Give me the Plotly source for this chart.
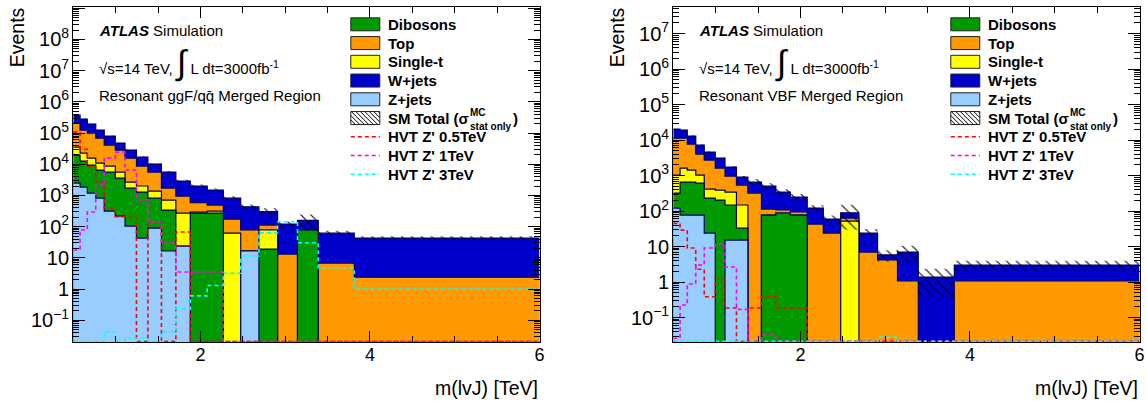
import numpy as np
import plotly.graph_objects as go

W, H = 1147, 406
FONT = "Liberation Sans, Arial, Helvetica, sans-serif"
NAVY = "#000066"

# bin edges in TeV (same binning for both regions)
EDGES = [0.5, 0.58, 0.665, 0.765, 0.865, 0.995, 1.11, 1.245, 1.38, 1.54, 1.71,
         1.88, 2.08, 2.27, 2.475, 2.69, 2.91, 3.145, 3.39, 3.815, 6.0]

# --- ggF/qqbar merged region (events per bin) ---
ZJETS_GGF = [2490, 1850, 1190, 823, 315, 218, 104, 43, 90, 16.5, 23.8, 0, 0, 0, 16.5, 0, 0, 0, 0, 0]
DIBOSON_GGF = [17200, 10750, 8210, 5680, 5290, 3380, 1620, 1240, 733, 323, 0, 272, 272, 0, 0, 19.1, 0, 78, 0, 0]
SINGLET_GGF = [15800, 10200, 6300, 4400, 3130, 2000, 960, 720, 557, 370, 248, 20, 43, 62, 0, 59, 0, 0, 0, 0]
TOP_GGF = [172500, 101200, 84300, 58000, 32400, 22800, 13000, 6730, 4220, 1010, 681, 297, 176, 113, 61.5, 34, 13.2, 0, 6.8, 2.4]
WJETS_GGF = [168000, 156000, 94000, 55100, 38900, 19300, 12700, 8270, 4500, 3880, 1930, 1410, 1000, 648, 355, 188, 108, 80, 55, 40.6]
STAT_ERR_GGF = [7500, 5600, 3900, 2500, 2400, 1400, 1100, 850, 700, 450, 290, 240, 180, 120, 80, 90, 25, 85, 12, 6]
HVT05_GGF = [107000, 30000, 8300, 2700, 394, 207, 200, 0, 140, 0, 67, 0, 0, 0, 0, 0, 0, 0, 0, 0]
HVT1_GGF = [17.7, 78, 293, 2150, 15700, 24500, 6500, 710, 140, 29.7, 3.5, 3.5, 3.5, 0, 0, 0, 0, 0, 0, 0]
HVT3_GGF = [0, 0, 0, 0, 0.043, 0, 0.027, 0.027, 0, 0.043, 0.23, 0.6, 1.3, 3.2, 11.4, 63, 143, 30.5, 4.8, 1.0]

# --- VBF merged region ---
ZJETS_VBF = [121, 77, 77, 77, 24, 0, 15.2, 15.2, 0, 0, 0, 0, 0, 0, 0, 0, 0, 0, 0, 0]
DIBOSON_VBF = [200, 579, 579, 538, 208, 204, 133, 17.8, 0, 77, 88, 77, 0, 0, 0, 0, 0, 0, 0, 0]
SINGLET_VBF = [709, 974, 774, 415, 185, 187, 195, 115, 0, 0, 0, 0, 0, 0, 52, 0, 0, 0, 0, 0]
TOP_VBF = [10370, 9770, 6280, 3000, 2310, 1240, 625, 392, 321, 37, 19, 17, 43, 24, 11.5, 7.0, 4.2, 1.07, 0, 1.07]
WJETS_VBF = [9000, 7700, 5290, 3200, 1860, 1480, 772, 367, 335, 392, 236, 154, 78, 35.5, 26, 17, 1.6, 5.9, 1.38, 1.93]
STAT_ERR_VBF = [600, 570, 400, 250, 180, 140, 90, 70, 150, 100, 70, 55, 25, 15, 60, 7, 2, 3.5, 1.0, 1.0]
HVT05_VBF = [45, 29, 9.1, 2.3, 0.385, 1.32, 0.185, 0, 0.185, 0.385, 0.185, 0.185, 0, 0, 0, 0, 0, 0, 0, 0]
HVT1_VBF = [0.026, 0.225, 0.88, 3.0, 9.1, 11.8, 2.65, 0.17, 0, 0.032, 0, 0, 0, 0, 0, 0, 0, 0, 0, 0]
HVT3_VBF = [0, 0, 0, 0, 0, 0, 0, 0, 0, 0, 0, 0, 0, 0, 0, 0, 0.028, 0, 0, 0]

BKG_NAMES = ["Z+jets", "Dibosons", "Single-t", "Top", "W+jets"]   # stacking order, bottom first
BKG_COLORS = ["#99ccff", "#009900", "#ffff00", "#ff9900", "#0000cc"]
LEGEND_ORDER = ["Dibosons", "Top", "Single-t", "W+jets", "Z+jets"]
SIG_NAMES = ["HVT Z' 0.5TeV", "HVT Z' 1TeV", "HVT Z' 3TeV"]
SIG_COLORS = ["#ff0000", "#ff00ff", "#00ffff"]

PANELS = [
    dict(left=73.3, right=539.5, yrange=[np.log10(0.02), 9.04],
         region="Resonant ggF/qq\u0304 Merged Region",
         stack=[ZJETS_GGF, DIBOSON_GGF, SINGLET_GGF, TOP_GGF, WJETS_GGF],
         err=STAT_ERR_GGF, sig=[HVT05_GGF, HVT1_GGF, HVT3_GGF]),
    dict(left=673.3, right=1139.5, yrange=[-1.69, 7.75],
         region="Resonant VBF Merged Region",
         stack=[ZJETS_VBF, DIBOSON_VBF, SINGLET_VBF, TOP_VBF, WJETS_VBF],
         err=STAT_ERR_VBF, sig=[HVT05_VBF, HVT1_VBF, HVT3_VBF]),
]

PLOT_TOP, PLOT_BOTTOM = 7, 342


def px_x(p):
    return p / W


def px_y(p):
    return 1 - p / H


def steps(vals, floor):
    v = np.asarray(vals, dtype=float)
    v = np.where(v > 0, v, floor)
    return np.append(v, v[-1])


def hatch_path(x0, x1, ytop, ybot, step=4.5):
    h = ybot - ytop
    parts = []
    a = x0 - h
    while a < x1:
        t0 = max(0.0, (x0 - a) / h)
        t1 = min(1.0, (x1 - a) / h)
        if t1 > t0:
            parts.append("M%.5f,%.5f L%.5f,%.5f" % (
                px_x(a + t0 * h), px_y(ytop + t0 * h),
                px_x(a + t1 * h), px_y(ytop + t1 * h)))
        a += step
    return " ".join(parts)


fig = go.Figure()
annotations = []
shapes = []

for i, p in enumerate(PANELS):
    xa = "x" if i == 0 else "x2"
    ya = "y" if i == 0 else "y2"
    ymin = 10 ** p["yrange"][0]

    cum = np.cumsum(np.array(p["stack"], dtype=float), axis=0)
    # draw the stack from the top down so lower components cover the upper ones
    for k in reversed(range(len(BKG_NAMES))):
        fig.add_trace(go.Scatter(
            x=EDGES, y=steps(cum[k], 1e-6), mode="lines",
            line=dict(shape="hv", color=NAVY, width=1.2),
            fill="tozeroy", fillcolor=BKG_COLORS[k],
            xaxis=xa, yaxis=ya, showlegend=False, hoverinfo="skip"))

    total = cum[-1]
    err = np.array(p["err"], dtype=float)
    fig.add_trace(go.Scatter(
        x=EDGES, y=steps(total - err, 1e-6), mode="lines",
        line=dict(shape="hv", width=0), xaxis=xa, yaxis=ya,
        showlegend=False, hoverinfo="skip"))
    fig.add_trace(go.Scatter(
        x=EDGES, y=steps(total + err, 1e-6), mode="lines",
        line=dict(shape="hv", width=0), fill="tonexty",
        fillcolor="rgba(0,0,0,0)",
        fillpattern=dict(shape="\\", fgcolor="black", bgcolor="rgba(0,0,0,0)",
                         size=7, solidity=0.15),
        xaxis=xa, yaxis=ya, showlegend=False, hoverinfo="skip"))

    for s, col in zip(p["sig"], SIG_COLORS):
        v = np.maximum(np.asarray(s, dtype=float), ymin * 1.04)
        fig.add_trace(go.Scatter(
            x=EDGES, y=np.append(v, v[-1]), mode="lines",
            line=dict(shape="hv", color=col, width=1.6, dash="4px,3px"),
            xaxis=xa, yaxis=ya, showlegend=False, hoverinfo="skip"))

    L, R = p["left"], p["right"]
    axis_x = dict(
        domain=[px_x(L), px_x(R)], range=[0.5, 6.0], tick0=0, dtick=2,
        ticks="inside", ticklen=11, tickcolor="black",
        minor=dict(dtick=0.5, ticks="inside", ticklen=6, tickcolor="black", showgrid=False),
        showline=True, linecolor="black", linewidth=1, mirror="allticks",
        showgrid=False, zeroline=False, tickfont=dict(size=18, color="black"),
        ticklabelstandoff=-4,
        anchor=ya)
    axis_y = dict(
        type="log", domain=[px_y(PLOT_BOTTOM), px_y(PLOT_TOP)], range=p["yrange"],
        dtick=1, exponentformat="power",
        ticks="inside", ticklen=12, tickcolor="black",
        minor=dict(ticks="inside", ticklen=6, tickcolor="black", showgrid=False),
        showline=True, linecolor="black", linewidth=1, mirror="allticks",
        showgrid=False, zeroline=False, tickfont=dict(size=16, color="black"),
        anchor=xa)
    if i == 0:
        fig.update_layout(xaxis=axis_x, yaxis=axis_y)
    else:
        fig.update_layout(xaxis2=axis_x, yaxis2=axis_y)

    # axis titles
    annotations.append(dict(text="Events", x=px_x(L - 56), y=px_y(5), xanchor="center",
                            yanchor="top", textangle=-90, font=dict(size=19.5)))
    annotations.append(dict(text="m(lvJ) [TeV]", x=px_x(R), y=px_y(388), xanchor="right",
                            yanchor="middle", font=dict(size=19.5)))

    # labels
    tx = L + 23.7
    annotations.append(dict(text="<b><i>ATLAS</i></b> Simulation", x=px_x(tx), y=px_y(31),
                            xanchor="left", yanchor="middle", font=dict(size=15)))
    annotations.append(dict(
        text="\u221as=14 TeV, <span style='font-size:34px'>\u222b</span> L dt=3000fb<sup>-1</sup>",
        x=px_x(tx), y=px_y(63), xanchor="left", yanchor="middle", font=dict(size=15)))
    annotations.append(dict(text=p["region"], x=px_x(tx), y=px_y(95),
                            xanchor="left", yanchor="middle", font=dict(size=15)))

    # legend
    bx0, bx1 = L + 277.5, L + 306.5
    text_x = L + 313
    row0, drow = 24.3, 18.75
    for r, name in enumerate(LEGEND_ORDER):
        yc = row0 + r * drow
        col = BKG_COLORS[BKG_NAMES.index(name)]
        shapes.append(dict(type="rect", xref="paper", yref="paper",
                           x0=px_x(bx0), x1=px_x(bx1), y0=px_y(yc + 6.5), y1=px_y(yc - 6.5),
                           fillcolor=col, line=dict(color="#222222", width=1)))
        annotations.append(dict(text="<b>%s</b>" % name, x=px_x(text_x), y=px_y(yc),
                                xanchor="left", yanchor="middle", font=dict(size=15)))
    yc = row0 + 5 * drow
    shapes.append(dict(type="rect", xref="paper", yref="paper",
                       x0=px_x(bx0), x1=px_x(bx1), y0=px_y(yc + 6.5), y1=px_y(yc - 6.5),
                       fillcolor="white", line=dict(color="#222222", width=1)))
    shapes.append(dict(type="path", xref="paper", yref="paper",
                       path=hatch_path(bx0, bx1, yc - 6.5, yc + 6.5),
                       line=dict(color="black", width=1)))
    annotations.append(dict(text="<b>SM Total (\u03c3</b>", x=px_x(text_x), y=px_y(yc),
                            xanchor="left", yanchor="middle", font=dict(size=15)))
    annotations.append(dict(text="<b>MC</b>", x=px_x(text_x + 83), y=px_y(yc - 5.5),
                            xanchor="left", yanchor="middle", font=dict(size=10), borderpad=0))
    annotations.append(dict(text="<b>stat only</b>", x=px_x(text_x + 83), y=px_y(yc + 8),
                            xanchor="left", yanchor="middle", font=dict(size=10), borderpad=0))
    annotations.append(dict(text="<b>)</b>", x=px_x(text_x + 125), y=px_y(yc),
                            xanchor="left", yanchor="middle", font=dict(size=15)))
    for r, (name, col) in enumerate(zip(SIG_NAMES, SIG_COLORS)):
        yc = row0 + (6 + r) * drow
        shapes.append(dict(type="line", xref="paper", yref="paper",
                           x0=px_x(bx0), x1=px_x(bx1), y0=px_y(yc), y1=px_y(yc),
                           line=dict(color=col, width=1.6, dash="4px,3px")))
        annotations.append(dict(text="<b>%s</b>" % name, x=px_x(text_x), y=px_y(yc),
                                xanchor="left", yanchor="middle", font=dict(size=15)))

for a in annotations:
    a.update(xref="paper", yref="paper", showarrow=False)

fig.update_layout(
    template="none",
    width=W, height=H, autosize=False,
    margin=dict(l=0, r=0, t=0, b=0),
    paper_bgcolor="white", plot_bgcolor="white",
    font=dict(family=FONT, color="black"),
    showlegend=False,
    annotations=annotations,
    shapes=shapes,
)

# the page body has a default 8px margin; drop it so the figure fills the window
fig.write_html("out.html", config={"displayModeBar": False},
               post_script="document.body.style.margin='0px';")
